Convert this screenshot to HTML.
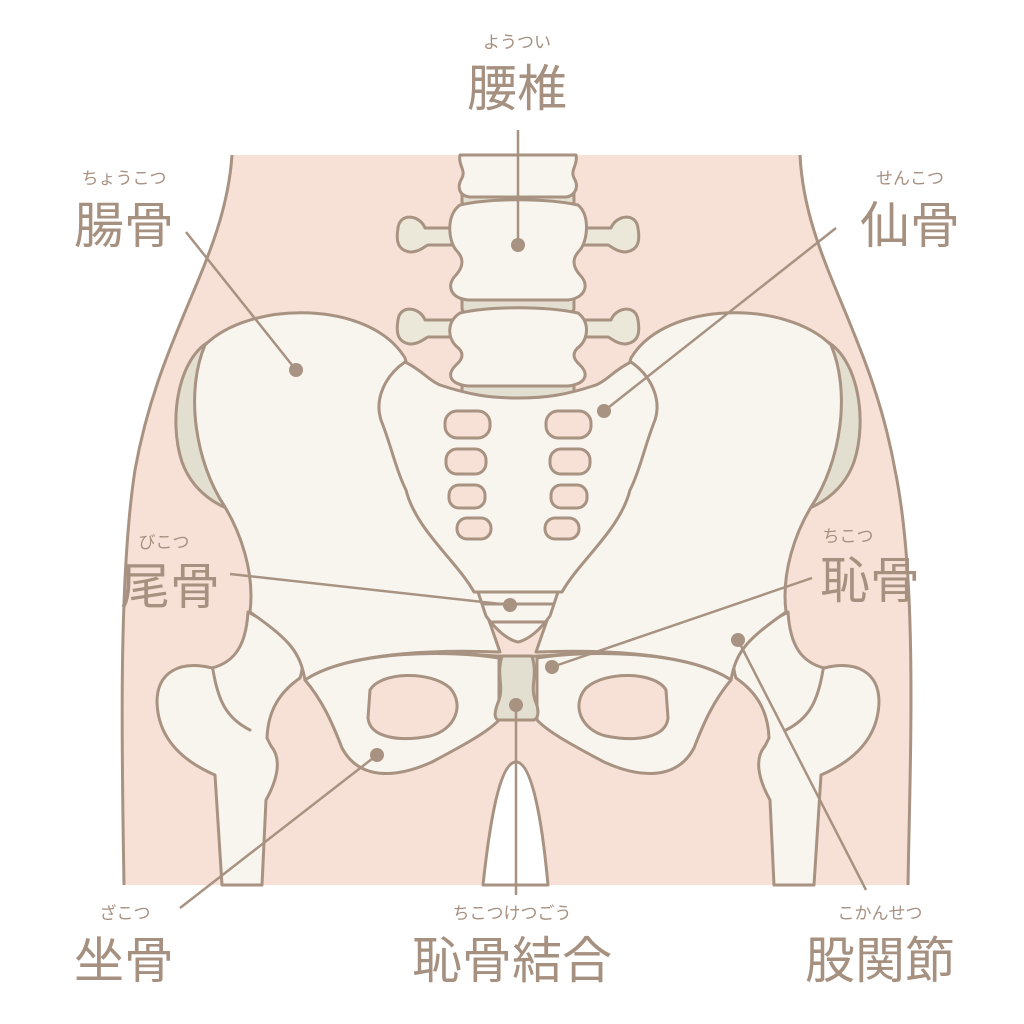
<!DOCTYPE html>
<html><head><meta charset="utf-8"><style>
html,body{margin:0;padding:0;background:#fff;}
svg{display:block}
text{font-family:"Liberation Sans","Noto Sans CJK JP",sans-serif;fill:#a69080;}
</style></head><body>
<svg width="1024" height="1024" viewBox="0 0 1024 1024" xmlns="http://www.w3.org/2000/svg">
<defs>
<g id="half" stroke="#a89282" stroke-width="3" stroke-linejoin="round" stroke-linecap="round">
  <path fill="#f8f5ef" d="M222,885 L215,775 C185,762 158,740 157,702 C157,672 180,660 212,668 C235,662 246,645 248,612 L300,640 C305,660 302,672 300,678 C280,692 268,710 267,738 L271,746 C283,760 276,782 266,800 L262,885 Z"/>
  <path fill="none" d="M213,670 C218,700 226,718 250,730"/>
  <path fill="#e2ded0" d="M212,340 C178,356 168,420 182,462 C195,498 228,512 252,515 C222,478 200,420 212,340 Z"/>
  <path fill="#f8f5ef" d="M205,345 C250,300 370,300 405,358 L440,480 L500,652 C450,650 350,650 305,680 C300,652 290,640 250,612 C255,572 240,532 225,507 C195,462 185,392 205,345 Z"/>
  <path fill="#f8f5ef" d="M305,680 C322,700 332,722 342,748 C358,778 392,780 432,762 C462,746 488,732 499,720 L499,658 C450,650 350,650 305,680 Z"/>
  <path fill="#f7e1d6" d="M370,690 C380,672 430,670 450,688 C465,705 455,730 430,736 C400,742 370,738 368,718 Z"/>
  <path fill="#ebe8da" d="M455,228 L425,228 C420,215 400,212 398,228 C396,240 397,250 410,252 C420,252 425,246 428,245 L455,245 Z"/>
  <path fill="#ebe8da" d="M455,320 L425,320 C420,307 400,304 398,320 C396,332 397,342 410,344 C420,344 425,338 428,337 L455,337 Z"/>
</g>
</defs>
<path d="M232,155 C225,260 160,330 135,470 C118,580 122,760 124,885 L908,885 C910,760 918,580 895,470 C870,330 805,260 800,155 Z" fill="#f7e1d6"/>
<path d="M232,155 C225,260 160,330 135,470 C118,580 122,760 124,885 M908,885 C910,760 918,580 895,470 C870,330 805,260 800,155" fill="none" stroke="#a89282" stroke-width="3"/>
<path d="M370,498 L415,493 L450,560 L586,560 L621,493 L666,498 C672,540 660,600 622,640 C582,662 454,662 414,640 C376,602 364,540 370,498 Z" fill="#f7e1d6" stroke="#a89282" stroke-width="3"/>
<use href="#half"/>
<use href="#half" transform="translate(1036,0) scale(-1,1)"/>
<g stroke="#a89282" stroke-width="3" stroke-linejoin="round">
  <rect x="462" y="185" width="112" height="22" rx="6" fill="#e2ded0"/>
  <rect x="462" y="292" width="112" height="22" rx="6" fill="#e2ded0"/>
  <rect x="462" y="378" width="112" height="22" rx="6" fill="#e2ded0"/>
  <path fill="#f8f5ef" d="M460,155 L576,155 C578,165 570,170 574,178 C580,188 574,196 566,197 L470,197 C460,196 456,188 462,178 C466,170 458,165 460,155 Z"/>
  <path fill="#f8f5ef" d="M460,205 C490,198 545,198 578,205 C590,215 588,240 580,250 C572,258 572,266 580,275 C590,285 585,298 568,300 L468,300 C450,298 446,285 456,275 C464,266 464,258 456,250 C448,240 446,215 460,205 Z"/>
  <path fill="#f8f5ef" d="M460,313 C490,306 545,306 578,313 C590,322 588,338 580,346 C572,352 572,358 580,365 C590,375 585,384 568,386 L468,386 C450,384 446,375 456,365 C464,358 464,352 456,346 C448,338 446,322 460,313 Z"/>
  <path fill="#f8f5ef" d="M405,362 C422,370 428,380 440,385 C470,395 490,398 518,398 C546,398 566,395 596,385 C608,380 614,370 631,362 C650,375 662,398 655,420 C645,445 640,470 630,490 C620,530 580,560 562,592 L474,592 C456,560 416,530 406,490 C396,470 391,445 381,420 C374,398 386,375 405,362 Z"/>
  <path fill="#f8f5ef" d="M478,592 L558,592 L550,616 C540,630 528,640 518,642 C508,640 496,630 486,616 Z"/>
  <path fill="none" d="M482,604 L554,604 M490,622 L546,622"/>
  <g fill="#f7e1d6">
    <rect x="445" y="411" width="45" height="27" rx="12"/><rect x="546" y="411" width="45" height="27" rx="12"/>
    <rect x="446" y="449" width="40" height="25" rx="11"/><rect x="550" y="449" width="40" height="25" rx="11"/>
    <rect x="449" y="485" width="36" height="23" rx="10"/><rect x="551" y="485" width="36" height="23" rx="10"/>
    <rect x="457" y="518" width="34" height="21" rx="10"/><rect x="545" y="518" width="34" height="21" rx="10"/>
  </g>
  <path fill="#e2ded0" d="M502,656 L532,656 C538,675 530,685 535,700 C540,712 538,718 534,720 L498,720 C494,718 494,712 499,700 C504,685 496,675 502,656 Z"/>
  <path fill="#fff" d="M483,885 C490,820 500,762 516,762 C532,762 542,820 548,885 Z"/>
</g>
<g stroke="#a89282" stroke-width="2.5" fill="none">
  <path d="M518,130 L518,245 M186,232 L296,370 M836,228 L604,411 M230,574 L510,605 M812,578 L552,667 M866,890 L738,640 M180,908 L377,755 M516,895 L516,705"/>
</g>
<g fill="#a89282">
  <circle cx="518" cy="245" r="7"/><circle cx="296" cy="370" r="7"/><circle cx="604" cy="411" r="7"/>
  <circle cx="510" cy="605" r="7"/><circle cx="552" cy="667" r="7"/><circle cx="738" cy="640" r="7"/>
  <circle cx="377" cy="755" r="7"/><circle cx="516" cy="705" r="7"/>
</g>
<g text-anchor="middle">
  <text x="517" y="48" font-size="17">ようつい</text>
  <text x="517" y="106" font-size="50">腰椎</text>
  <text x="124" y="184" font-size="17">ちょうこつ</text>
  <text x="124" y="243" font-size="50">腸骨</text>
  <text x="910" y="184" font-size="17">せんこつ</text>
  <text x="910" y="243" font-size="50">仙骨</text>
  <text x="164" y="548" font-size="17">びこつ</text>
  <text x="170" y="604" font-size="50">尾骨</text>
  <text x="848" y="542" font-size="17">ちこつ</text>
  <text x="870" y="598" font-size="50">恥骨</text>
  <text x="125" y="919" font-size="17">ざこつ</text>
  <text x="124" y="978" font-size="50">坐骨</text>
  <text x="512" y="919" font-size="17">ちこつけつごう</text>
  <text x="512" y="978" font-size="50">恥骨結合</text>
  <text x="880" y="919" font-size="17">こかんせつ</text>
  <text x="880" y="978" font-size="50">股関節</text>
</g>
</svg>
</body></html>
